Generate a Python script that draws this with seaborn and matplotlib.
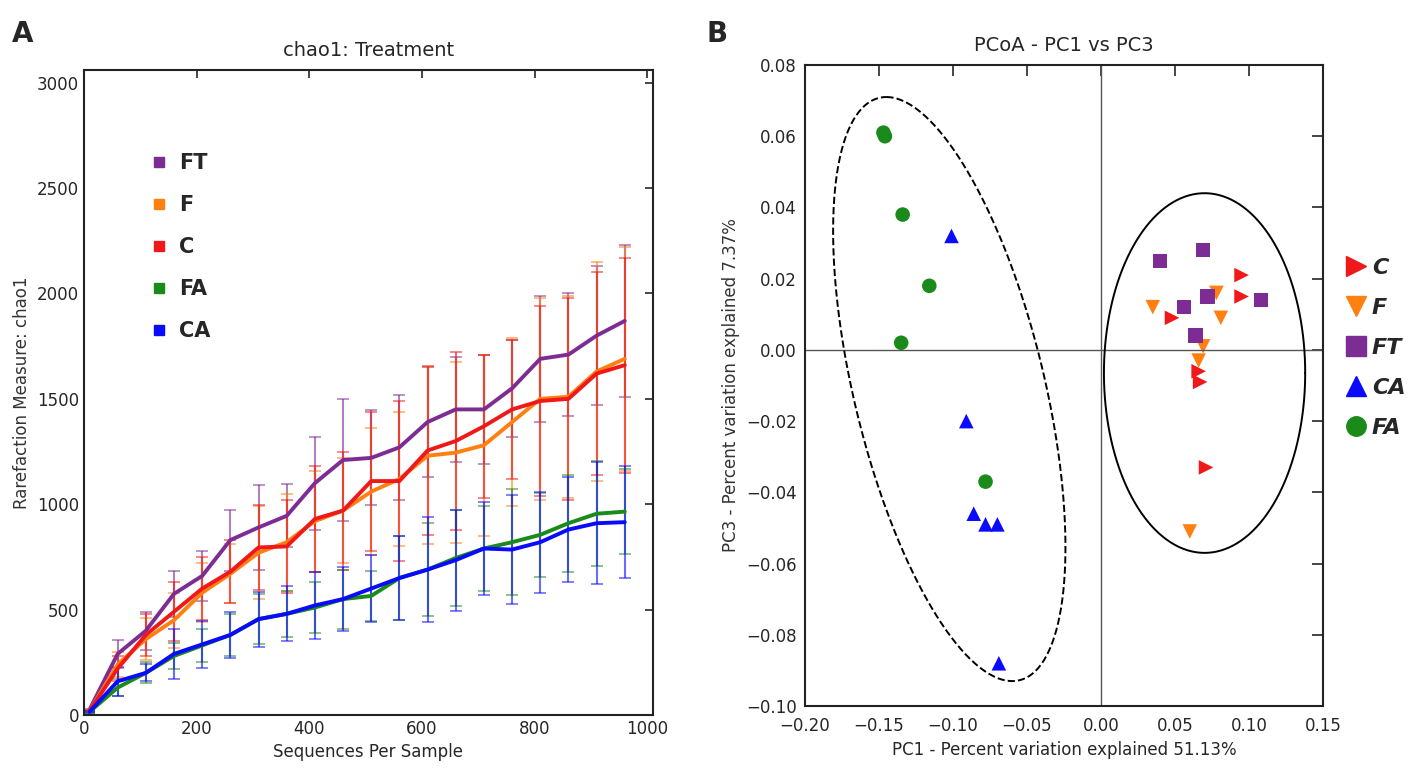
import matplotlib
matplotlib.use("Agg")
import matplotlib.pyplot as plt
import numpy as np
import pandas as pd
import seaborn as sns

# ---- rarefaction data (panel A) ----
depth = [10, 60, 110, 160, 210, 260, 310, 360, 410, 460, 510, 560, 610, 660, 710, 760, 810, 860, 910, 960]
groups_a = ["FT", "F", "C", "FA", "CA"]
ft_mean = [25, 290, 400, 575, 660, 830, 890, 945, 1100, 1210, 1220, 1270, 1390, 1450, 1450, 1550, 1690, 1710, 1800, 1870]
f_mean = [20, 240, 360, 450, 580, 670, 770, 820, 920, 970, 1060, 1120, 1230, 1245, 1280, 1390, 1500, 1510, 1630, 1690]
c_mean = [20, 220, 380, 490, 600, 680, 795, 800, 930, 970, 1110, 1110, 1255, 1300, 1370, 1450, 1490, 1500, 1620, 1660]
fa_mean = [15, 130, 200, 280, 330, 380, 455, 480, 510, 550, 565, 650, 690, 745, 790, 820, 855, 910, 955, 965]
ca_mean = [15, 160, 200, 290, 335, 380, 455, 480, 520, 550, 600, 650, 690, 735, 790, 785, 820, 880, 910, 915]
ft_err = [5, 65, 90, 110, 120, 145, 200, 150, 220, 290, 225, 250, 260, 250, 260, 230, 300, 290, 330, 360]
f_err = [5, 60, 100, 130, 140, 140, 220, 230, 240, 250, 300, 320, 420, 430, 430, 400, 480, 480, 520, 530]
c_err = [5, 60, 100, 140, 150, 150, 200, 220, 250, 280, 330, 380, 400, 420, 340, 330, 450, 480, 480, 510]
fa_err = [5, 40, 50, 60, 80, 100, 120, 110, 120, 140, 120, 200, 220, 230, 200, 250, 200, 230, 250, 200]
ca_err = [5, 70, 40, 120, 110, 110, 130, 130, 160, 150, 160, 200, 250, 240, 220, 260, 240, 250, 290, 265]

# ---- PCoA data (panel B) ----
groups_b = ["C", "F", "FT", "CA", "FA"]
c_pc1 = [0.095, 0.095, 0.048, 0.066, 0.067, 0.071]
c_pc3 = [0.021, 0.015, 0.009, -0.006, -0.009, -0.033]
f_pc1 = [0.035, 0.078, 0.081, 0.069, 0.066, 0.060]
f_pc3 = [0.012, 0.016, 0.009, 0.001, -0.003, -0.051]
ft_pc1 = [0.040, 0.069, 0.056, 0.072, 0.108, 0.064]
ft_pc3 = [0.025, 0.028, 0.012, 0.015, 0.014, 0.004]
ca_pc1 = [-0.101, -0.091, -0.086, -0.078, -0.070, -0.069]
ca_pc3 = [0.032, -0.020, -0.046, -0.049, -0.049, -0.088]
fa_pc1 = [-0.147, -0.146, -0.134, -0.116, -0.135, -0.078]
fa_pc3 = [0.061, 0.060, 0.038, 0.018, 0.002, -0.037]

colors = {"FT": "#7d2c94", "F": "#ff7f10", "C": "#f01818", "FA": "#1a8a1a", "CA": "#0a0aff"}
markers = {"C": ">", "F": "v", "FT": "s", "CA": "^", "FA": "o"}

sns.set_theme(style="white")
plt.rcParams["font.family"] = ["DejaVu Sans"]
plt.rcParams["xtick.direction"] = "in"
plt.rcParams["ytick.direction"] = "in"
plt.rcParams["axes.unicode_minus"] = True


def fmt2(v, pos):
    if abs(v) < 1e-9:
        return "0.00"
    return f"{v:.2f}".replace("-", "\u2212")


fig = plt.figure(figsize=(14.21, 7.7), dpi=100)
ax1 = fig.add_axes([0.059, 0.0714, 0.4005, 0.8376])
ax2 = fig.add_axes([0.5665, 0.0831, 0.3645, 0.8325])

# panel A
means = {"FT": ft_mean, "F": f_mean, "C": c_mean, "FA": fa_mean, "CA": ca_mean}
errs = {"FT": ft_err, "F": f_err, "C": c_err, "FA": fa_err, "CA": ca_err}
rows = []
for g in groups_a:
    for d, m in zip(depth, means[g]):
        rows.append({"depth": d, "chao1": m, "group": g})
df_a = pd.DataFrame(rows)

for g in groups_a:
    ax1.errorbar(depth, means[g], yerr=errs[g], fmt="none", ecolor=colors[g],
                 alpha=0.6, capsize=4, elinewidth=1.5, capthick=1.2)
sns.lineplot(data=df_a, x="depth", y="chao1", hue="group", hue_order=groups_a,
             palette=colors, linewidth=2.8, ax=ax1, legend=False)

for g in groups_a:
    ax1.plot([], [], "s", color=colors[g], markersize=7, label=g)
ax1.legend(loc="upper left", bbox_to_anchor=(0.08, 0.90), frameon=False,
           prop={"weight": "bold", "size": 15}, handletextpad=0.5, labelspacing=1.05,
           handlelength=1.0)

ax1.set_xlim(0, 1010)
ax1.set_ylim(0, 3060)
ax1.set_xticks([0, 200, 400, 600, 800, 1000])
ax1.set_yticks([0, 500, 1000, 1500, 2000, 2500, 3000])
ax1.set_xlabel("Sequences Per Sample", fontsize=12)
ax1.set_ylabel("Rarefaction Measure: chao1", fontsize=12, color="#333333")
ax1.set_title("chao1: Treatment", fontsize=14, pad=10)
ax1.tick_params(top=True, right=True, length=6, width=1.2, labelsize=12)

# panel B
pcs = {"C": (c_pc1, c_pc3), "F": (f_pc1, f_pc3), "FT": (ft_pc1, ft_pc3),
       "CA": (ca_pc1, ca_pc3), "FA": (fa_pc1, fa_pc3)}
rows = []
for g in groups_b:
    for x, y in zip(*pcs[g]):
        rows.append({"PC1": x, "PC3": y, "group": g})
df_b = pd.DataFrame(rows)

ax2.axhline(0, color="#555555", lw=1)
ax2.axvline(0, color="#555555", lw=1)

t = np.linspace(0, 2 * np.pi, 300)
# dashed ellipse around the A groups
ax2.plot(-0.1025 - 0.0425 * np.cos(t) + 0.066 * np.sin(t),
         -0.011 + 0.082 * np.cos(t), ls="--", color="black", lw=1.4)
# solid ellipse around the control groups
ax2.plot(0.07 + 0.068 * np.cos(t), -0.0065 + 0.0505 * np.sin(t), color="black", lw=1.4)

sns.scatterplot(data=df_b, x="PC1", y="PC3", hue="group", style="group",
                hue_order=groups_b, style_order=groups_b, palette=colors,
                markers=markers, s=110, edgecolor="none", ax=ax2, legend=False)

for g in groups_b:
    ax2.plot([], [], markers[g], color=colors[g], markersize=14, ls="none", label=g)
ax2.legend(loc="upper left", bbox_to_anchor=(1.0, 0.73), frameon=False,
           prop={"weight": "bold", "style": "italic", "size": 16},
           handletextpad=0.1, labelspacing=0.9, handlelength=1.2)

ax2.set_xlim(-0.2, 0.15)
ax2.set_ylim(-0.1, 0.08)
ax2.set_xticks(np.arange(-0.2, 0.151, 0.05))
ax2.set_yticks(np.arange(-0.1, 0.081, 0.02))
ax2.xaxis.set_major_formatter(matplotlib.ticker.FuncFormatter(fmt2))
ax2.yaxis.set_major_formatter(matplotlib.ticker.FuncFormatter(fmt2))
ax2.set_xlabel("PC1 - Percent variation explained 51.13%", fontsize=12)
ax2.set_ylabel("PC3 - Percent variation explained 7.37%", fontsize=12, color="#333333")
ax2.set_title("PCoA - PC1 vs PC3", fontsize=14, pad=10)
ax2.tick_params(top=True, right=True, length=8, width=1.2, labelsize=12)
ax2.tick_params(axis="x", pad=8)
ax2.tick_params(axis="y", pad=6)

for ax in (ax1, ax2):
    for s in ax.spines.values():
        s.set_color("#222222")
        s.set_linewidth(1.5)

fig.text(0.008, 0.945, "A", fontsize=20, fontweight="bold")
fig.text(0.497, 0.945, "B", fontsize=20, fontweight="bold")

fig.savefig("out.png", dpi=100)
